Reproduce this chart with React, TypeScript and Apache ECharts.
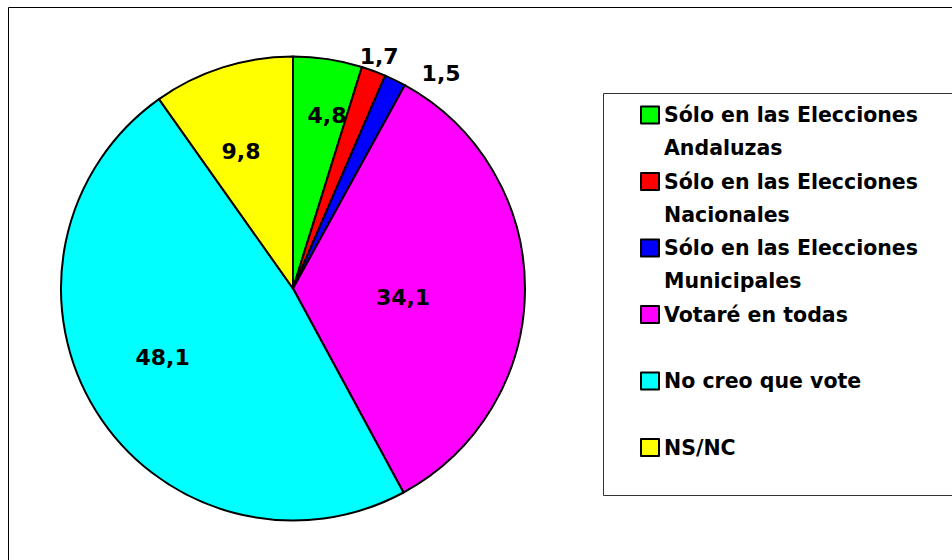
import React, { useEffect, useRef } from 'react';
import * as echarts from 'echarts';

const categories = [
  'Sólo en las Elecciones Andaluzas',
  'Sólo en las Elecciones Nacionales',
  'Sólo en las Elecciones Municipales',
  'Votaré en todas',
  'No creo que vote',
  'NS/NC',
];
const values = [4.8, 1.7, 1.5, 34.1, 48.1, 9.8];
const colors = ['#00FF00', '#FF0000', '#0000FF', '#FF00FF', '#00FFFF', '#FFFF00'];

// label placement style (fraction of radius, angular shift in degrees)
const labelRadius = [0.758, 1.068, 1.127, 0.476, 0.635, 0.63];
const labelAngleShift = [-2.5, 0, -8.4, -4.7, -4.1, 3.2];

const CX = 293;
const CY = 288.5;
const RADIUS = 232;
const FONT = 'DejaVu Sans';

export default function App() {
  const ref = useRef<HTMLDivElement>(null);
  useEffect(() => {
    const chart = echarts.init(ref.current!, null, { renderer: 'svg' });
    const total = values.reduce((a, b) => a + b, 0);
    const midAngles: number[] = [];
    let cum = 0;
    values.forEach((v) => {
      midAngles.push(90 - ((cum + v / 2) / total) * 360);
      cum += v;
    });
    chart.setOption({
      animation: false,
      backgroundColor: '#fff',
      graphic: [
        {
          type: 'rect',
          silent: true,
          shape: { x: 8.5, y: 7.5, width: 1000, height: 600 },
          style: { fill: 'none', stroke: '#000', lineWidth: 1 },
        },
        {
          type: 'rect',
          silent: true,
          shape: { x: 603.5, y: 93.5, width: 400, height: 402 },
          style: { fill: '#fff', stroke: '#333', lineWidth: 1 },
        },
      ],
      legend: {
        orient: 'vertical',
        left: 640,
        top: 65.5,
        padding: 0,
        itemWidth: 18,
        itemHeight: 17,
        itemGap: -32.5,
        icon: 'rect',
        selectedMode: false,
        data: categories,
        itemStyle: { borderColor: '#000', borderWidth: 2 },
        textStyle: {
          fontFamily: FONT,
          fontSize: 20.5,
          fontWeight: 'bold',
          color: '#000',
          lineHeight: 33,
        },
        formatter: (name: string) =>
          name.indexOf('Elecciones ') >= 0
            ? '\n' + name.replace('Elecciones ', 'Elecciones\n')
            : '\n' + name + '\n ',
      },
      series: [
        {
          type: 'pie',
          center: [CX, CY],
          radius: RADIUS,
          startAngle: 90,
          clockwise: true,
          avoidLabelOverlap: false,
          data: categories.map((name, i) => ({ name, value: values[i], itemStyle: { color: colors[i] } })),
          itemStyle: { borderColor: '#000', borderWidth: 2 },
          label: {
            show: true,
            position: 'inside',
            fontFamily: FONT,
            fontSize: 22,
            fontWeight: 'bold',
            color: '#000',
            formatter: (p: any) => p.value.toFixed(1).replace('.', ','),
          },
          labelLine: { show: false },
          emphasis: { disabled: true },
          labelLayout: (params: any) => {
            const i = params.dataIndex;
            const a = ((midAngles[i] + labelAngleShift[i]) * Math.PI) / 180;
            const r = RADIUS * labelRadius[i];
            return {
              x: CX + r * Math.cos(a),
              y: CY - r * Math.sin(a),
              align: 'center',
              verticalAlign: 'middle',
            };
          },
        },
      ],
    });
    return () => chart.dispose();
  }, []);
  return (
    <div
      ref={ref}
      style={{ position: 'fixed', left: 0, top: 0, width: 952, height: 560, background: '#fff' }}
    />
  );
}
